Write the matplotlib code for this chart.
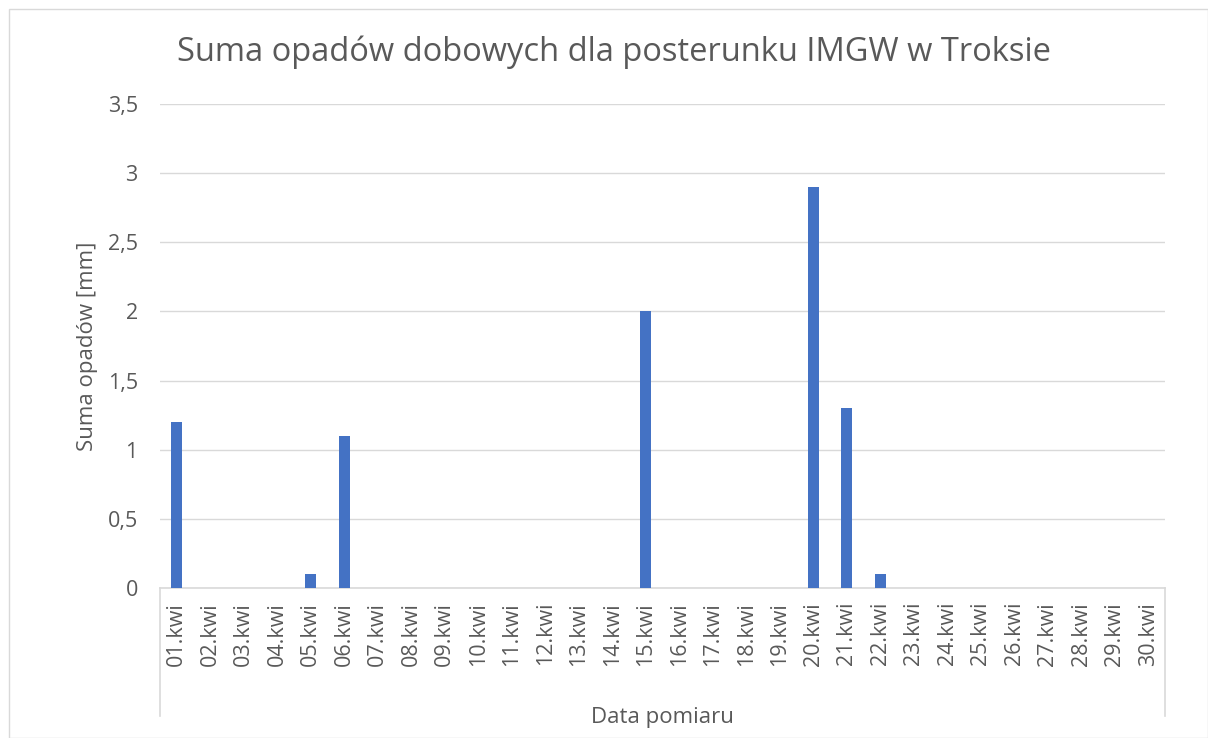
import matplotlib.pyplot as plt
from matplotlib.patches import Rectangle

days = [f"{d:02d}.kwi" for d in range(1, 31)]
rain = [1.2, 0, 0, 0, 0.1, 1.1, 0, 0, 0, 0,
        0, 0, 0, 0, 2.0, 0, 0, 0, 0, 2.9,
        1.3, 0.1, 0, 0, 0, 0, 0, 0, 0, 0]
yticks = [0, 0.5, 1, 1.5, 2, 2.5, 3, 3.5]
ytick_labels = ["0", "0,5", "1", "1,5", "2", "2,5", "3", "3,5"]

plt.rcParams['font.family'] = ['Open Sans', 'DejaVu Sans']
txt = '#595959'
grid = '#D9D9D9'

fig = plt.figure(figsize=(12.08, 7.38), dpi=100)
fig.patches.append(Rectangle((9 / 1208, 0), 1 - 9 / 1208, 1 - 9 / 738,
                             transform=fig.transFigure, fill=False,
                             edgecolor=grid, linewidth=1))
ax = fig.add_axes([160 / 1208, 150 / 738, 1005 / 1208, 484 / 738])

x = list(range(len(days)))
ax.bar(x, rain, width=0.33, color='#4472C4', zorder=3)
ax.set_xlim(-0.5, len(days) - 0.5)
ax.set_ylim(0, 3.5)
ax.set_yticks(yticks)
ax.set_yticklabels(ytick_labels)
ax.set_xticks(x)
ax.set_xticklabels(days, rotation=90)
ax.tick_params(axis='x', length=0, pad=10, labelsize=15.5, labelcolor=txt)
ax.tick_params(axis='y', length=0, pad=16, labelsize=15.5, labelcolor=txt)
ax.grid(axis='y', color=grid, linewidth=1, zorder=0)

for s in ['top', 'right', 'left']:
    ax.spines[s].set_visible(False)
ax.spines['bottom'].set_color(grid)
ax.spines['bottom'].set_linewidth(1.2)

# category axis box
ylow = -128 / 484
for xv in (0, 1):
    ax.plot([xv, xv], [0, ylow], transform=ax.transAxes, color=grid,
            linewidth=1.2, clip_on=False)

ax.set_xlabel("Data pomiaru", fontsize=16, color=txt)
ax.xaxis.set_label_coords(0.5, -119 / 484)
ax.set_ylabel("Suma opadów [mm]", fontsize=16, color=txt)
ax.yaxis.set_label_coords(-62 / 1005, 0.5)

fig.suptitle("Suma opadów dobowych dla posterunku IMGW w Troksie",
             fontsize=23.5, color=txt, x=614 / 1208, y=1 - 52 / 738, va='center')

fig.savefig("out.png", dpi=100)
